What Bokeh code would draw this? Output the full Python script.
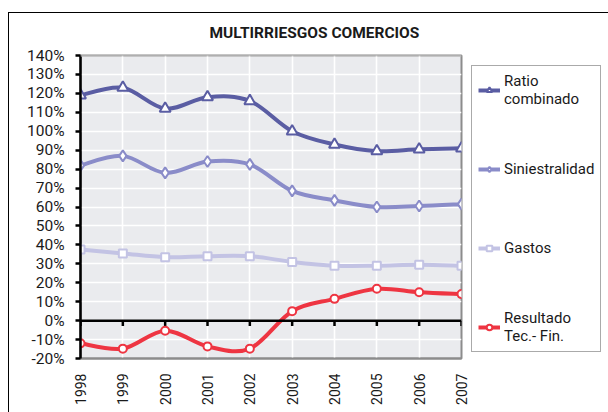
import math
from bokeh.plotting import figure
from bokeh.models import (Range1d, FixedTicker, PrintfTickFormatter, Legend, LegendItem,
                          Span, ColumnDataSource)
from bokeh.embed import file_html
from bokeh.resources import INLINE

years = [1998, 1999, 2000, 2001, 2002, 2003, 2004, 2005, 2006, 2007]
ratio_combinado = [119, 123, 112, 118, 116, 100, 93, 89.5, 90.5, 91]
siniestralidad = [82, 87, 78, 84, 82.5, 68.5, 63.5, 60, 60.5, 61.5]
gastos = [37.5, 35.5, 33.5, 34, 34, 31, 29, 29, 29.5, 29]
resultado = [-12, -14.8, -5.3, -13.6, -14.8, 5, 11.5, 16.8, 15, 14]

series = [
    ("Ratio\ncombinado", ratio_combinado, "#5A5DA3", "triangle"),
    ("Siniestralidad", siniestralidad, "#8A8CC9", "diamond"),
    ("Gastos", gastos, "#C3C3E4", "square"),
    ("Resultado\nTec.- Fin.", resultado, "#EE3542", "circle"),
]

FONT = "Roboto"
TXT = "#1a1a1a"

p = figure(frame_width=381, frame_height=303, output_backend="svg", toolbar_location=None,
           x_range=Range1d(1998, 2007), y_range=Range1d(-20, 140),
           min_border_left=80, min_border_right=0, min_border_top=55, min_border_bottom=54)
p.background_fill_color = "#EAEBEE"
p.border_fill_alpha = 0
p.outline_line_color = "#8C8C8C"
p.outline_line_width = 2
p.styles = {
    "background": "linear-gradient(#000, #000) 8px 12px / 1px 420px no-repeat, "
                  "linear-gradient(#000, #000) 8px 12px / 620px 1px no-repeat, #ffffff"
}

# grid
p.xgrid.ticker = FixedTicker(ticks=years)
p.ygrid.ticker = FixedTicker(ticks=list(range(-20, 141, 10)))
p.grid.grid_line_color = "white"
p.grid.grid_line_width = 1.6

# y axis
p.yaxis.ticker = FixedTicker(ticks=list(range(-20, 141, 10)))
p.yaxis.formatter = PrintfTickFormatter(format="%d%%")
p.yaxis.axis_line_color = "black"
p.yaxis.axis_line_width = 2.5
p.yaxis.major_tick_line_color = "black"
p.yaxis.major_tick_line_width = 2.5
p.yaxis.major_tick_out = 5
p.yaxis.major_tick_in = 0
p.yaxis.minor_tick_line_color = None
p.yaxis.major_label_text_font = FONT
p.yaxis.major_label_text_font_size = "15.5px"
p.yaxis.major_label_text_color = TXT
p.yaxis.major_label_standoff = 11

# x axis (labels at bottom)
p.xaxis.ticker = FixedTicker(ticks=years)
p.xaxis.axis_line_color = "#8C8C8C"
p.xaxis.axis_line_width = 2
p.xaxis.major_tick_line_color = None
p.xaxis.minor_tick_line_color = None
p.xaxis.major_label_orientation = math.pi / 2
p.xaxis.major_label_text_font = FONT
p.xaxis.major_label_text_font_size = "14px"
p.xaxis.major_label_text_color = TXT
p.xaxis.major_label_standoff = 9

# top edge lighter
p.add_layout(Span(location=140, dimension="width", line_color="#D2D2D2", line_width=2))
# zero line with ticks below it
p.add_layout(Span(location=0, dimension="width", line_color="black", line_width=2.5))
p.rect(x=years, y=-1.4, width=2.5, height=2.8, width_units="screen",
       fill_color="black", line_color=None)

legend_items = []
for label, vals, color, marker in series:
    xs0, ys0, xs1, ys1, cx0, cy0, cx1, cy1 = [], [], [], [], [], [], [], []
    n = len(years)
    for i in range(n - 1):
        pm = (years[max(i - 1, 0)], vals[max(i - 1, 0)])
        p0 = (years[i], vals[i])
        p1 = (years[i + 1], vals[i + 1])
        p2 = (years[min(i + 2, n - 1)], vals[min(i + 2, n - 1)])
        xs0.append(p0[0]); ys0.append(p0[1]); xs1.append(p1[0]); ys1.append(p1[1])
        cx0.append(p0[0] + (p1[0] - pm[0]) / 6); cy0.append(p0[1] + (p1[1] - pm[1]) / 6)
        cx1.append(p1[0] - (p2[0] - p0[0]) / 6); cy1.append(p1[1] - (p2[1] - p0[1]) / 6)
    src = ColumnDataSource(dict(x0=xs0, y0=ys0, x1=xs1, y1=ys1, cx0=cx0, cy0=cy0, cx1=cx1, cy1=cy1))
    p.bezier(x0="x0", y0="y0", x1="x1", y1="y1", cx0="cx0", cy0="cy0", cx1="cx1", cy1="cy1",
             source=src, line_color=color, line_width=4)
    leg_line = p.line(x=[years[0]], y=[vals[0]], line_color=color, line_width=4)
    size = 11 if marker in ("triangle", "diamond") else 8
    m = p.scatter(x=years, y=vals, marker=marker, size=size, fill_color="white",
                  line_color=color, line_width=2)
    legend_items.append(LegendItem(label=label, renderers=[leg_line, m]))

legend = Legend(items=legend_items, location="top_left")
legend.label_text_font = FONT
legend.label_text_font_size = "15px"
legend.label_text_color = TXT
legend.glyph_width = 22
legend.glyph_height = 14
legend.label_height = 36
legend.label_standoff = 4
legend.spacing = 43
legend.padding = 6
legend.margin = 10
legend.border_line_color = "#555555"
legend.border_line_width = 1.5
legend.background_fill_color = "white"
p.add_layout(legend, "right")

p.title.text = "MULTIRRIESGOS COMERCIOS"
p.title.text_font = FONT
p.title.text_font_size = "15.5px"
p.title.text_font_style = "bold"
p.title.text_color = TXT
p.title.align = "left"
p.title.offset = 129
p.title.standoff = 27

open("out.html", "w").write(file_html(p, INLINE))
